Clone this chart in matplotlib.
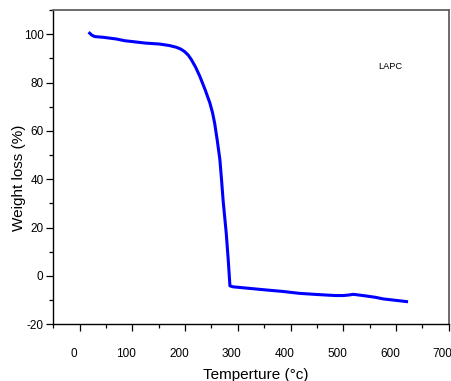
import matplotlib
matplotlib.use('Agg')
import matplotlib.pyplot as plt
from matplotlib.ticker import MultipleLocator
from matplotlib.transforms import ScaledTranslation

plt.rcParams['font.family'] = ['Liberation Sans', 'DejaVu Sans']
plt.rcParams['axes.unicode_minus'] = False

# TGA curve
temp = [19, 23, 28.5, 45, 69.6, 85, 101, 125, 152, 170, 183, 192, 199, 206,
        212, 220, 228, 238, 247, 252, 256, 261, 266, 269, 272, 275, 278,
        282, 285, 291, 320, 354, 385, 417, 445, 468, 485, 500, 510, 519,
        530, 544, 560, 576, 600, 620]
weight = [100.4, 99.6, 99.0, 98.7, 98.0, 97.3, 96.9, 96.3, 95.9, 95.3, 94.6,
          93.8, 92.8, 91.3, 89.4, 86.3, 82.5, 77.0, 71.5, 67.5, 63.2, 56.0,
          48.0, 40.0, 31.4, 24.5, 17.7, 6.0, -4.1, -4.5, -5.1, -5.8, -6.4,
          -7.2, -7.6, -7.9, -8.1, -8.1, -7.9, -7.6, -7.9, -8.3, -8.8, -9.5,
          -10.1, -10.6]
label_text = 'LAPC'

fig = plt.figure(figsize=(4.52, 3.81), dpi=100)
ax = fig.add_axes([0.118, 0.1488, 0.8747, 0.825])

ax.plot(temp, weight, color='#0000ff', lw=2.2)

ax.set_xlim(-50, 700)
ax.set_ylim(-20, 110)
ax.xaxis.set_major_locator(MultipleLocator(100))
ax.xaxis.set_minor_locator(MultipleLocator(50))
ax.yaxis.set_major_locator(MultipleLocator(20))
ax.yaxis.set_minor_locator(MultipleLocator(10))
ax.set_yticks([-20, 0, 20, 40, 60, 80, 100])
ax.set_xticks([0, 100, 200, 300, 400, 500, 600, 700])

ax.tick_params(which='both', direction='out', top=False, right=False, width=0.9)
ax.tick_params(which='major', length=5)
ax.tick_params(which='minor', length=3)
ax.tick_params(axis='x', which='major', pad=12, labelsize=8.5)
ax.tick_params(axis='y', which='major', pad=2, labelsize=8.5)

shift = ScaledTranslation(-6 / 100, 0, fig.dpi_scale_trans)
for lbl in ax.get_xticklabels():
    lbl.set_transform(lbl.get_transform() + shift)

for side in ['top', 'right']:
    ax.spines[side].set_color('#606060')
    ax.spines[side].set_linewidth(1.3)
for side in ['left', 'bottom']:
    ax.spines[side].set_linewidth(1.0)

ax.set_xlabel('Temperture (°c)', fontsize=11)
ax.set_ylabel('Weight loss (%)', fontsize=11)
ax.xaxis.set_label_coords(0.513, -0.161)
ax.xaxis.label.set_va('center')
ax.yaxis.set_label_coords(-0.088, 0.465)
ax.yaxis.label.set_va('center')

ax.text(589, 86.6, label_text, fontsize=6.7, ha='center', va='center')

fig.savefig('out.png', dpi=100)
